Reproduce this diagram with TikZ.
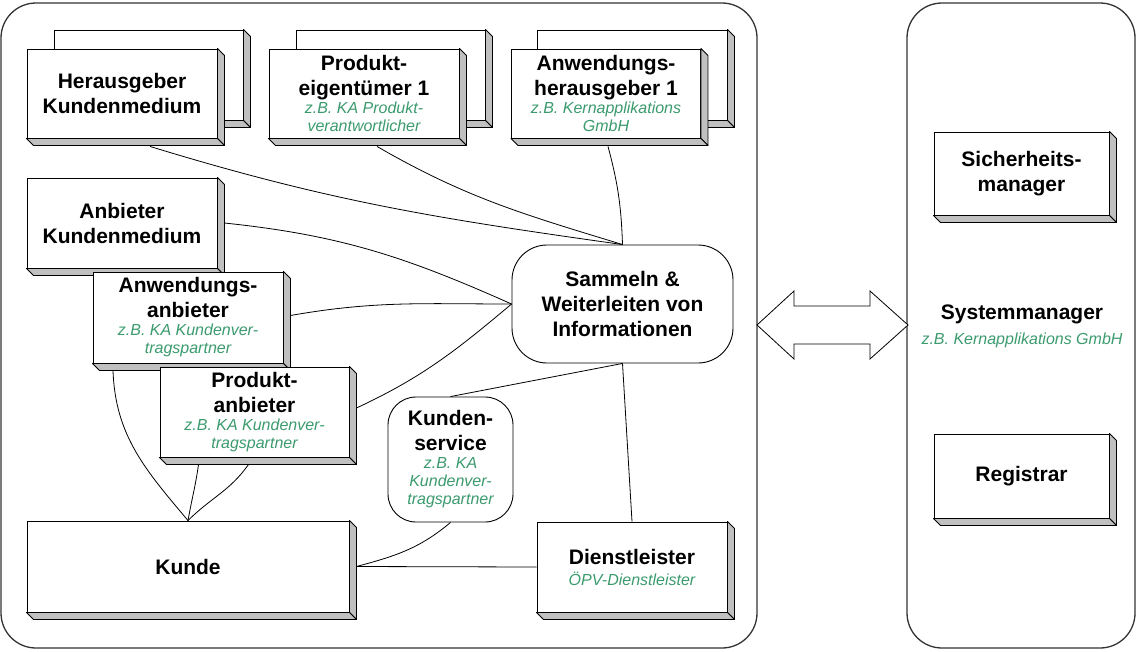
\documentclass[tikz,border=0pt]{standalone}
\usepackage{fontspec}
\setmainfont{Liberation Sans}
\usepackage{tikz}
\usetikzlibrary{calc}

\definecolor{kagreen}{RGB}{60,155,110}
\definecolor{depthgray}{RGB}{192,192,192}
\newcommand{\ttl}{\fontsize{21}{25}\selectfont\bfseries}
\newcommand{\sbt}{\fontsize{16}{25}\selectfont\mdseries\itshape\color{kagreen}}

\tikzset{
  tdbox/.style={draw, fill=white, line width=0.9pt, align=center, inner sep=0pt, font=\ttl},
  depthside/.style={draw, fill=depthgray, line width=0.9pt, line join=round},
  roundbox/.style={draw, fill=white, line width=0.9pt, align=center, inner sep=0pt, font=\ttl},
  panel/.style={draw=black!80, line width=1.3pt, rounded corners=35pt},
  link/.style={line width=0.8pt},
}
% right and bottom face of a raised box
\newcommand{\boxdepth}[1]{%
  \filldraw[depthside] (#1.north east) -- ++(7,-7) -- ([shift={(7,-7)}]#1.south east) -- (#1.south east) -- cycle;
  \filldraw[depthside] (#1.south west) -- ++(7,-7) -- ([shift={(7,-7)}]#1.south east) -- (#1.south east) -- cycle;}

\begin{document}
\begin{tikzpicture}[x=1pt,y=1pt]
  \useasboundingbox (0,0) rectangle (1139,-651);

  \draw[panel] (1,-3) rectangle (757,-648);
  \draw[panel] (907,-3) rectangle (1135,-648);

  \draw[line width=0.8pt, line join=miter, fill=white] (757,-325) -- (794,-291) -- (794,-306) -- (870,-306)
    -- (870,-291) -- (908,-325) -- (870,-359) -- (870,-344) -- (794,-344) -- (794,-359) -- cycle;

  % back copies
  \node[tdbox, minimum width=189pt, minimum height=90pt] (herback) at (148.5,-75) {};
  \boxdepth{herback}
  \node[tdbox, minimum width=189pt, minimum height=90pt] (peigback) at (390.5,-75) {};
  \boxdepth{peigback}
  \node[tdbox, minimum width=190pt, minimum height=90pt] (aherback) at (632,-75) {};
  \boxdepth{aherback}

  \node[tdbox, minimum width=190pt, minimum height=89pt] (her) at (122,-93.5) {Herausgeber\\Kundenmedium};
  \boxdepth{her}
  \node[tdbox, minimum width=190pt, minimum height=89pt] (peig) at (364,-93.5)
    {Produkt-\\eigentümer 1\\[-7pt]\sbt z.B. KA Produkt-\\[-7pt]\sbt verantwortlicher};
  \boxdepth{peig}
  \node[tdbox, minimum width=189pt, minimum height=89pt] (aher) at (606,-93.5)
    {Anwendungs-\\herausgeber 1\\[-7pt]\sbt z.B. Kernapplikations\\[-7pt]\sbt GmbH};
  \boxdepth{aher}

  \node[tdbox, minimum width=190pt, minimum height=90pt] (akm) at (122,-223) {Anbieter\\Kundenmedium};
  \boxdepth{akm}
  \node[tdbox, minimum width=190pt, minimum height=91pt] (aanb) at (188,-317.5)
    {Anwendungs-\\anbieter\\[-7pt]\sbt z.B. KA Kundenver-\\[-7pt]\sbt tragspartner};
  \boxdepth{aanb}
  \node[tdbox, minimum width=189pt, minimum height=90pt] (panb) at (254.5,-412)
    {Produkt-\\anbieter\\[-7pt]\sbt z.B. KA Kundenver-\\[-7pt]\sbt tragspartner};
  \boxdepth{panb}

  \node[tdbox, minimum width=322pt, minimum height=91pt] (kunde) at (188,-566.5) {Kunde};
  \boxdepth{kunde}
  \node[tdbox, minimum width=190pt, minimum height=90pt] (dienst) at (632,-567)
    {Dienstleister\\[-4pt]\sbt ÖPV-Dienstleister};
  \boxdepth{dienst}

  \node[roundbox, rounded corners=35pt, minimum width=221pt, minimum height=118pt] (sam) at (622.5,-304)
    {Sammeln \&\\Weiterleiten von\\Informationen};
  \node[roundbox, rounded corners=28pt, minimum width=125pt, minimum height=125pt] (ksv) at (450.5,-459.5)
    {Kunden-\\service\\[-7pt]\sbt z.B. KA\\[-7pt]\sbt Kundenver-\\[-7pt]\sbt tragspartner};

  \node[tdbox, minimum width=175pt, minimum height=83pt] (sicher) at (1021.5,-173.5) {Sicherheits-\\manager};
  \boxdepth{sicher}
  \node[align=center, font=\ttl] (sysman) at (1022,-326) {Systemmanager\\\sbt z.B. Kernapplikations GmbH};
  \node[tdbox, minimum width=175pt, minimum height=84pt] (regist) at (1021.5,-476) {Registrar};
  \boxdepth{regist}

  % connections
  \draw[link] ([shift={(28,-8)}]her.south) to[out=-17,in=172] (sam.north);
  \draw[link] ([shift={(13,-8)}]peig.south) to[out=-30,in=163] (sam.north);
  \draw[link] ([shift={(2,-8)}]aher.south) to[out=-75,in=92] (sam.north);
  \draw[link] ([xshift=7pt]akm.east) to[out=-6,in=156] (sam.west);
  \draw[link] ([shift={(7,2)}]aanb.east) to[out=10,in=180] (sam.west);
  \draw[link] ([shift={(7,4)}]panb.east) to[out=25,in=-140] (sam.west);
  \draw[link] (sam.south) -- (ksv.north);
  \draw[link] (sam.south) -- (dienst.north);
  \draw[link] (ksv.south) to[out=220,in=15] ([xshift=7pt]kunde.east);
  \draw[link] ([xshift=7pt]kunde.east) -- (dienst.west);
  \draw[link] ([shift={(-75,-7)}]aanb.south) to[out=-88,in=130] (kunde.north);
  \draw[link] ([shift={(-56,-7)}]panb.south) to[out=-98,in=80] (kunde.north);
  \draw[link] ([shift={(-6,-7)}]panb.south) to[out=-125,in=45] (kunde.north);
\end{tikzpicture}
\end{document}
